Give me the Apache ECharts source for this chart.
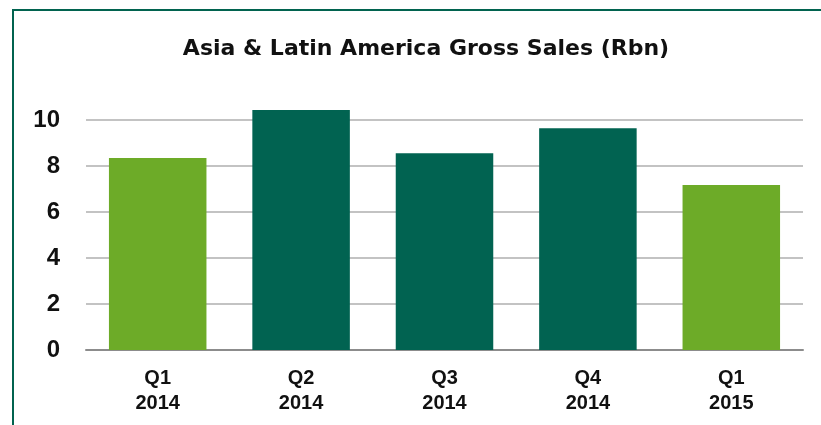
<!DOCTYPE html>
<html>
<head>
<meta charset="utf-8">
<script src="https://cdn.jsdelivr.net/npm/echarts@6/dist/echarts.min.js"></script>
<style>
html,body{margin:0;padding:0;background:#fff;}
#chart{width:821px;height:425px;}
</style>
</head>
<body>
<div id="chart"></div>
<script>
var titleText = 'Asia & Latin America Gross Sales (Rbn)';
var quarters = ['Q1', 'Q2', 'Q3', 'Q4', 'Q1'];
var years = ['2014', '2014', '2014', '2014', '2015'];
var sales = [8.35, 10.43, 8.55, 9.64, 7.17];
var yTicks = [0, 2, 4, 6, 8, 10];

var categories = quarters.map(function (q, i) { return q + '\n' + years[i]; });
var FONT = '"DejaVu Sans", sans-serif';
var FONT2 = '"Liberation Sans", Arial, sans-serif';
var LIGHT = '#6dab28';
var DARK = '#016351';

var chart = echarts.init(document.getElementById('chart'));
chart.setOption({
  animation: false,
  backgroundColor: '#ffffff',
  title: {
    text: titleText,
    left: 421,
    textAlign: 'center',
    top: 33,
    textStyle: { fontFamily: FONT, fontWeight: 'bold', fontSize: 22, color: '#111' }
  },
  graphic: [{
    type: 'rect',
    shape: { x: 13, y: 10, width: 900, height: 600 },
    style: { fill: 'none', stroke: '#01634f', lineWidth: 2 },
    silent: true
  }],
  grid: { left: 86, right: 18, top: 120, bottom: 75, containLabel: false },
  xAxis: {
    type: 'category',
    data: categories,
    axisTick: { show: false },
    axisLine: { lineStyle: { color: '#8c8c8c', width: 2 } },
    axisLabel: {
      fontFamily: FONT2, fontWeight: 'bold', fontSize: 20, color: '#111',
      lineHeight: 25, margin: 16
    }
  },
  yAxis: {
    type: 'value',
    min: yTicks[0],
    max: yTicks[yTicks.length - 1],
    interval: yTicks[1] - yTicks[0],
    axisLine: { show: false },
    axisTick: { show: false },
    splitLine: { lineStyle: { color: '#c3c3c3', width: 2 } },
    axisLabel: {
      fontFamily: FONT2, fontWeight: 'bold', fontSize: 24, color: '#111', margin: 26
    }
  },
  series: [{
    type: 'bar',
    data: sales,
    barWidth: '68%',
    clip: false,
    itemStyle: {
      color: function (p) { return quarters[p.dataIndex] === 'Q1' ? LIGHT : DARK; }
    }
  }]
});
</script>
</body>
</html>
